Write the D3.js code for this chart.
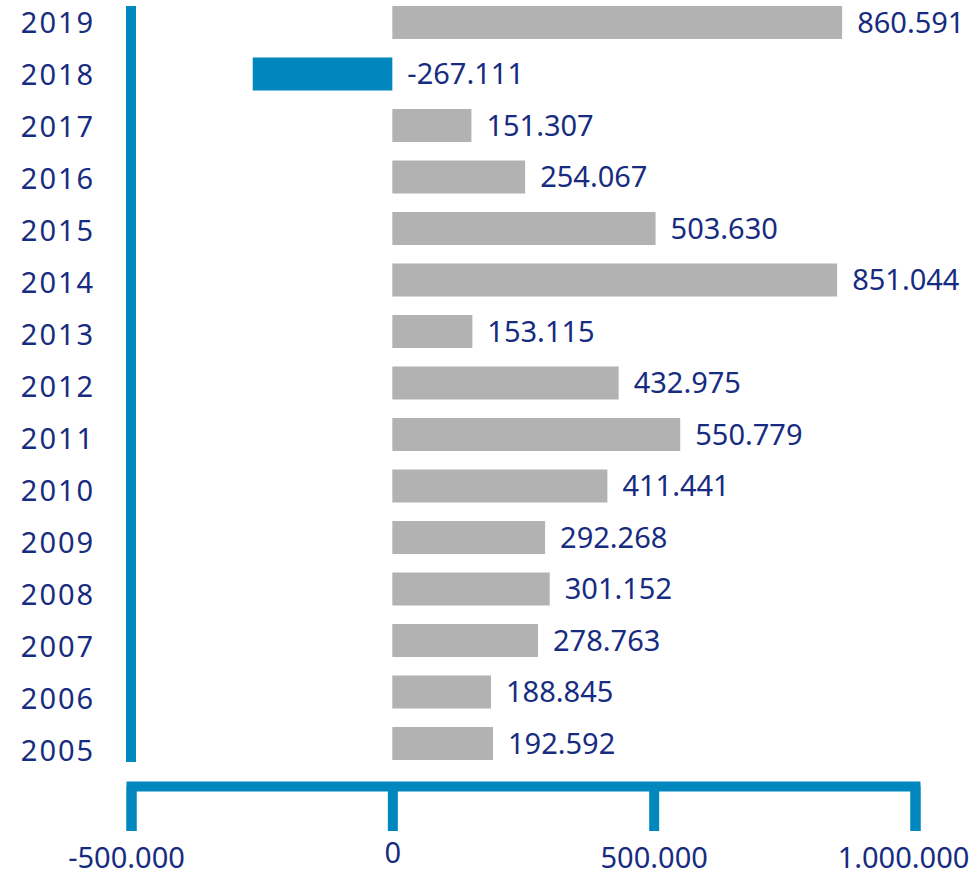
<!DOCTYPE html>
<html>
<head>
    <meta charset="utf-8">
    <script src="https://d3js.org/d3.v7.min.js"></script>
    <style>
        body {
            margin: 0;
            background: #ffffff;
            font-family: 'Noto Sans', sans-serif;
        }
    </style>
</head>
<body>
    <svg id="chart" width="980" height="875"></svg>
    <script>
        // data, top row first
        var years = ["2019", "2018", "2017", "2016", "2015", "2014", "2013", "2012",
                     "2011", "2010", "2009", "2008", "2007", "2006", "2005"];
        var values = [860591, -267111, 151307, 254067, 503630, 851044, 153115, 432975,
                      550779, 411441, 292268, 301152, 278763, 188845, 192592];
        var tickValues = [-500000, 0, 500000, 1000000];
        var tickLabels = ["-500.000", "0", "500.000", "1.000.000"];

        var blue = "#0087be";
        var navy = "#172c80";
        var grey = "#b2b2b2";

        var svg = d3.select("#chart");

        var x = d3.scaleLinear()
            .domain([-500000, 1000000])
            .range([131, 915]);

        var y = d3.scaleBand()
            .domain(years)
            .range([6, 760])
            .paddingInner(0.3592)
            .paddingOuter(0);

        // year labels sit on a slightly looser grid than the bars
        var yLabel = d3.scalePoint()
            .domain(years)
            .range([23, 751]);

        // 1.234.567 style, plain hyphen for negatives
        var fmt = function (v) {
            var s = d3.format(",")(Math.abs(v)).replace(/,/g, ".");
            return (v < 0 ? "-" : "") + s;
        };

        // bars
        svg.append("g")
            .selectAll("rect")
            .data(values)
            .join("rect")
            .attr("x", function (d) { return x(Math.min(0, d)); })
            .attr("y", function (d, i) { return y(years[i]); })
            .attr("width", function (d) { return Math.abs(x(d) - x(0)); })
            .attr("height", y.bandwidth())
            .style("fill", function (d) { return d < 0 ? blue : grey; });

        // value labels
        svg.append("g")
            .selectAll("text")
            .data(values)
            .join("text")
            .attr("x", function (d) { return x(Math.max(0, d)) + 15; })
            .attr("y", function (d, i) { return y(years[i]) + y.bandwidth() / 2; })
            .attr("dy", "0.36em")
            .style("font-size", "29px")
            .style("fill", navy)
            .text(function (d) { return fmt(d); });

        // year labels
        svg.append("g")
            .selectAll("text")
            .data(years)
            .join("text")
            .attr("x", 58)
            .attr("y", function (d) { return yLabel(d); })
            .attr("dy", "0.36em")
            .attr("text-anchor", "middle")
            .style("font-size", "29px")
            .style("letter-spacing", "2px")
            .style("fill", navy)
            .text(function (d) { return d; });

        // left vertical rule
        svg.append("line")
            .attr("x1", x(-500000))
            .attr("x2", x(-500000))
            .attr("y1", 6)
            .attr("y2", 762)
            .style("stroke", blue)
            .style("stroke-width", 10);

        // bottom axis
        var xAxis = d3.axisBottom(x)
            .tickValues(tickValues)
            .tickSize(45)
            .tickSizeOuter(45)
            .tickPadding(16)
            .tickFormat(function (d, i) { return tickLabels[i]; });

        var axisG = svg.append("g")
            .attr("transform", "translate(0,786)")
            .call(xAxis);

        axisG.select(".domain")
            .style("stroke", blue)
            .style("stroke-width", 10)
            .style("stroke-linejoin", "miter");

        axisG.selectAll(".tick line")
            .style("stroke", blue)
            .style("stroke-width", 10);

        axisG.selectAll(".tick text")
            .style("font-family", "'Noto Sans', sans-serif")
            .style("font-size", "29px")
            .style("fill", navy)
            .attr("x", function (d) { return d === 1000000 ? -12 : (d === -500000 ? -5 : 0); })
            .attr("y", function (d) { return d === 0 ? 56 : 61; });
    </script>
</body>
</html>
